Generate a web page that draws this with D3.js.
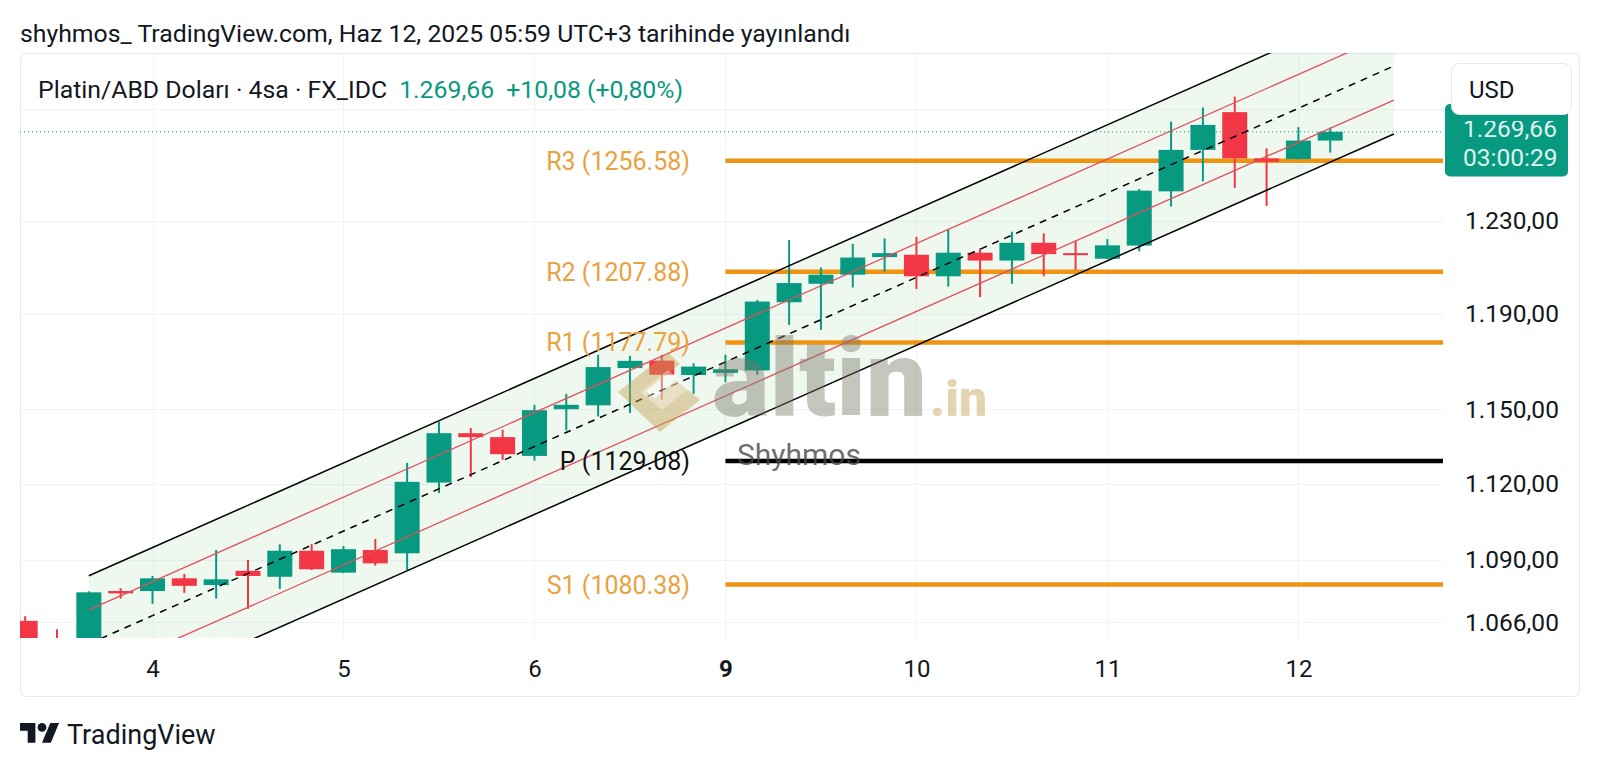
<!DOCTYPE html>
<html><head><meta charset="utf-8">
<script src="https://cdn.jsdelivr.net/npm/d3@7"></script>
<style>
body{margin:0;background:#fff;}
svg{display:block;font-family:Roboto,"Noto Sans",sans-serif;}
</style></head>
<body><svg id="c" width="1600" height="769"></svg>
<script>
// ---------- data ----------
const dayLabels = ["4", "5", "6", "9", "10", "11", "12"];
const dayStartIndex = [0, 6, 12, 18, 24, 30, 36];
const candleIndex = d3.range(-4, 38);
const open  = [1066.5,1052.0,1050.0,1077.9,1077.9,1082.8,1080.2,1085.7,1083.4,1093.5,1085.0,1093.8,1092.5,1120.4,1140.3,1138.7,1131.1,1150.1,1151.7,1167.1,1170.2,1164.2,1165.1,1166.1,1194.8,1202.7,1206.6,1214.2,1215.2,1205.9,1216.1,1212.7,1220.4,1215.9,1213.5,1219.2,1243.0,1261.5,1278.6,1257.7,1257.4,1265.7];
const high  = [1068.3,1063.3,1077.8,1079.0,1083.7,1084.5,1093.8,1089.9,1096.0,1096.1,1095.3,1098.1,1128.3,1145.0,1142.4,1141.7,1151.9,1156.4,1172.6,1172.2,1172.6,1169.1,1172.6,1195.8,1221.6,1209.7,1219.9,1222.3,1223.0,1226.2,1218.0,1225.2,1224.5,1221.2,1222.0,1244.0,1274.3,1280.7,1285.7,1262.2,1271.8,1271.6];
const low   = [1048.0,1046.0,1046.0,1075.0,1073.0,1077.2,1075.0,1071.1,1078.7,1086.0,1084.8,1087.7,1086.0,1116.2,1122.6,1129.5,1129.2,1141.4,1147.1,1148.5,1153.9,1156.4,1161.2,1164.3,1185.2,1183.1,1201.1,1208.0,1200.5,1201.5,1197.0,1202.7,1205.9,1208.7,1213.3,1216.7,1236.3,1247.4,1244.5,1236.6,1257.2,1260.3];
const close = [1055.0,1050.0,1077.4,1077.0,1082.8,1079.9,1082.4,1083.7,1093.5,1086.3,1094.1,1088.6,1120.7,1140.3,1138.7,1131.8,1149.7,1151.9,1167.5,1170.1,1164.3,1167.7,1166.6,1195.1,1203.0,1206.6,1214.0,1215.9,1205.9,1216.1,1212.7,1220.4,1215.5,1215.3,1219.3,1243.3,1261.5,1272.8,1257.7,1256.2,1265.7,1269.66];
const priceTicks = [1066, 1090, 1120, 1150, 1190, 1230, 1280];
const pivotNames  = ["R3", "R2", "R1", "P", "S1"];
const pivotValues = [1256.58, 1207.88, 1177.79, 1129.08, 1080.38];
const pivotStartIndex = 18;
// regression channel: [upper outer, upper inner, middle, lower inner, lower outer]
const channelStartIndex = -2, channelEndIndex = 39;
const channelStart = [1083.8, 1070.7, 1057.8, 1045.1, 1032.5];
const channelEnd   = [1331.7, 1315.6, 1299.8, 1284.1, 1268.7];
const lastPrice = 1269.66;
const headerText = "shyhmos_ TradingView.com, Haz 12, 2025 05:59 UTC+3 tarihinde yayınlandı";
const legendTitle = "Platin/ABD Doları · 4sa · FX_IDC";
const legendPrice = "1.269,66";
const legendChange = "+10,08 (+0,80%)";
const countdown = "03:00:29";

// ---------- setup ----------
const svg = d3.select("#c");
const W = 1600, H = 769;
const plot = {left: 20, right: 1443, top: 53, bottom: 638};
const GREEN = "#089981", RED = "#f23645", ORANGE = "#ef9412", ORANGE_TXT = "#eaa23f", TXT = "#131722";
const loc = d3.formatLocale({decimal: ",", thousands: ".", grouping: [3], currency: ["", ""]});
const fmt = loc.format(",.2f");

const x = d3.scaleLinear().domain([0, 36]).range([152.5, 1298.4]);
const y = d3.scaleLog().domain([1060.0, 1305.85]).range([plot.bottom, plot.top]);

svg.append("rect").attr("width", W).attr("height", H).attr("fill", "#fff");
// panel
svg.append("rect").attr("x", 20.5).attr("y", 53.5).attr("width", 1559).attr("height", 643)
  .attr("rx", 6).attr("fill", "#fff").attr("stroke", "#e6e8ee");

const defs = svg.append("defs");
defs.append("clipPath").attr("id", "plotClip").append("rect")
  .attr("x", plot.left).attr("y", plot.top).attr("width", plot.right - plot.left).attr("height", plot.bottom - plot.top);
defs.append("clipPath").attr("id", "labelClip").append("rect")
  .attr("x", 1440).attr("y", 121).attr("width", 140).attr("height", 70);

// grid
const grid = svg.append("g").attr("clip-path", "url(#plotClip)");
grid.selectAll("line.h").data(priceTicks).join("line")
  .attr("x1", plot.left).attr("x2", plot.right)
  .attr("y1", d => Math.round(y(d)) + 0.5).attr("y2", d => Math.round(y(d)) + 0.5)
  .attr("stroke", "#f0f3fa").attr("stroke-width", 1);
grid.selectAll("line.v").data(dayStartIndex).join("line")
  .attr("x1", d => Math.round(x(d)) + 0.5).attr("x2", d => Math.round(x(d)) + 0.5)
  .attr("y1", plot.top).attr("y2", plot.bottom)
  .attr("stroke", "#f0f3fa").attr("stroke-width", 1);

const g = svg.append("g").attr("clip-path", "url(#plotClip)");

// channel fill
const x0 = x(channelStartIndex), x1 = x(channelEndIndex);
g.append("path")
  .attr("d", `M${x0},${y(channelStart[0])}L${x1},${y(channelEnd[0])}L${x1},${y(channelEnd[4])}L${x0},${y(channelStart[4])}Z`)
  .attr("fill", "rgba(76,175,80,0.09)");

// pivot lines
pivotValues.forEach((v, i) => {
  g.append("line")
    .attr("x1", x(pivotStartIndex)).attr("x2", plot.right)
    .attr("y1", y(v)).attr("y2", y(v))
    .attr("stroke", pivotNames[i] === "P" ? "#000" : ORANGE).attr("stroke-width", 4.5);
});

// candles
const candles = candleIndex.map((idx, k) => ({idx, o: open[k], h: high[k], l: low[k], c: close[k]}));
const cg = g.append("g");
cg.selectAll("line.w").data(candles).join("line")
  .attr("x1", d => x(d.idx)).attr("x2", d => x(d.idx))
  .attr("y1", d => y(d.h)).attr("y2", d => y(d.l))
  .attr("stroke", d => d.c >= d.o ? GREEN : RED).attr("stroke-width", 2);
cg.selectAll("rect.b").data(candles).join("rect")
  .attr("x", d => x(d.idx) - 12.5).attr("width", 25)
  .attr("y", d => y(Math.max(d.o, d.c)))
  .attr("height", d => Math.max(2, Math.abs(y(d.o) - y(d.c))))
  .attr("fill", d => d.c >= d.o ? GREEN : RED);

// channel lines
const chStyles = [
  {stroke: "#000", w: 1.5, dash: null},
  {stroke: "#e0505c", w: 1.3, dash: null},
  {stroke: "#000", w: 1.5, dash: "7,6"},
  {stroke: "#e0505c", w: 1.3, dash: null},
  {stroke: "#000", w: 1.5, dash: null}
];
channelStart.forEach((v, i) => {
  g.append("line")
    .attr("x1", x0).attr("y1", y(v)).attr("x2", x1).attr("y2", y(channelEnd[i]))
    .attr("stroke", chStyles[i].stroke).attr("stroke-width", chStyles[i].w)
    .attr("stroke-dasharray", chStyles[i].dash);
});

// last price dotted line
g.append("line").attr("x1", plot.left).attr("x2", plot.right)
  .attr("y1", y(lastPrice)).attr("y2", y(lastPrice))
  .attr("stroke", GREEN).attr("stroke-width", 1).attr("stroke-dasharray", "1,3");

// pivot labels
pivotValues.forEach((v, i) => {
  svg.append("text").attr("x", 690).attr("y", y(v)).attr("dy", "0.36em")
    .attr("text-anchor", "end").attr("font-size", 25)
    .attr("fill", pivotNames[i] === "P" ? "#111" : ORANGE_TXT)
    .text(`${pivotNames[i]} (${v.toFixed(2)})`);
});

// watermark
const wm = svg.append("g").attr("pointer-events", "none");
wm.append("path")
  .attr("d", "M668,352 L618,392 L660,432 L700,400 L676,380 L655,398 L646,391 L680,364 Z")
  .attr("fill", "rgba(196,160,80,0.45)");
wm.append("path")
  .attr("d", "M640,392 L668,370 L690,388 L662,410 Z")
  .attr("fill", "rgba(255,255,255,0.35)");
wm.append("text").attr("x", 712).attr("y", 416).attr("font-size", 108).attr("font-weight", 900)
  .attr("fill", "rgba(120,116,100,0.42)").text("altin");
wm.append("text").attr("x", 930).attr("y", 416).attr("font-size", 50).attr("font-weight", 900)
  .attr("fill", "rgba(196,160,80,0.45)").text(".in");
wm.append("text").attr("x", 737).attr("y", 454).attr("dy", "0.36em").attr("font-size", 30)
  .attr("fill", "rgba(70,70,70,0.8)").text("Shyhmos");

// y axis labels (labels that would sit under the last-price label are hidden, as on TradingView)
const labelTicks = priceTicks.filter(t => Math.abs(y(t) - y(lastPrice)) > 40);
const yAxis = d3.axisRight(y).tickValues(labelTicks).tickFormat(fmt).tickSize(0).tickPadding(0);
const ya = svg.append("g").attr("transform", `translate(1465,0)`).call(yAxis);
ya.select(".domain").remove();
ya.selectAll("text").attr("font-size", 24.5).attr("font-family", "Roboto").attr("fill", TXT);

// x axis labels
const xAxis = d3.axisBottom(x).tickValues(dayStartIndex).tickFormat((d, i) => dayLabels[i]).tickSize(0).tickPadding(0);
const xa = svg.append("g").attr("transform", `translate(0,660)`).call(xAxis);
xa.select(".domain").remove();
xa.selectAll("text").attr("font-size", 24).attr("font-family", "Roboto").attr("fill", TXT)
  .attr("dy", "0.36em").attr("y", 8)
  .attr("font-weight", (d, i) => dayLabels[i] === "9" ? 700 : 400);

// price label
svg.append("rect").attr("x", 1445).attr("y", 104).attr("width", 123).attr("height", 72.5).attr("rx", 5).attr("fill", GREEN);
svg.append("text").attr("x", 1463).attr("y", 128).attr("dy", "0.36em").attr("font-size", 24.5)
  .attr("clip-path", "url(#labelClip)")
  .attr("fill", "#dff3ee").text(fmt(lastPrice));
svg.append("text").attr("x", 1463).attr("y", 157).attr("dy", "0.36em").attr("font-size", 24.5)
  .attr("fill", "#dff3ee").text(countdown);
// USD box
svg.append("rect").attr("x", 1451.5).attr("y", 63.5).attr("width", 120).attr("height", 51).attr("rx", 8)
  .attr("fill", "#fff").attr("stroke", "#e6e8ee");
svg.append("text").attr("x", 1469).attr("y", 89).attr("dy", "0.36em").attr("font-size", 24).attr("fill", TXT).text("USD");

// header & legend
svg.append("text").attr("x", 20).attr("y", 33).attr("dy", "0.36em").attr("font-size", 24.8).attr("fill", TXT).text(headerText);
const lg = svg.append("text").attr("x", 38).attr("y", 89).attr("dy", "0.36em").attr("font-size", 24.8).attr("fill", TXT);
lg.append("tspan").text(legendTitle);
lg.append("tspan").attr("dx", 12).attr("fill", GREEN).text(legendPrice);
lg.append("tspan").attr("dx", 12).attr("fill", GREEN).text(legendChange);

// footer logo
const ft = svg.append("g");
ft.append("g").attr("transform", "translate(20,718.6) scale(1.1)")
  .call(s => {
    s.append("path").attr("d", "M14 22H7V11H0V4h14v18zM28 22h-8l7.5-18h8L28 22z").attr("fill", TXT);
    s.append("circle").attr("cx", 20).attr("cy", 8).attr("r", 4).attr("fill", TXT);
  });
ft.append("text").attr("x", 67).attr("y", 734).attr("dy", "0.36em").attr("font-size", 27).attr("fill", TXT).text("TradingView");
</script></body></html>
